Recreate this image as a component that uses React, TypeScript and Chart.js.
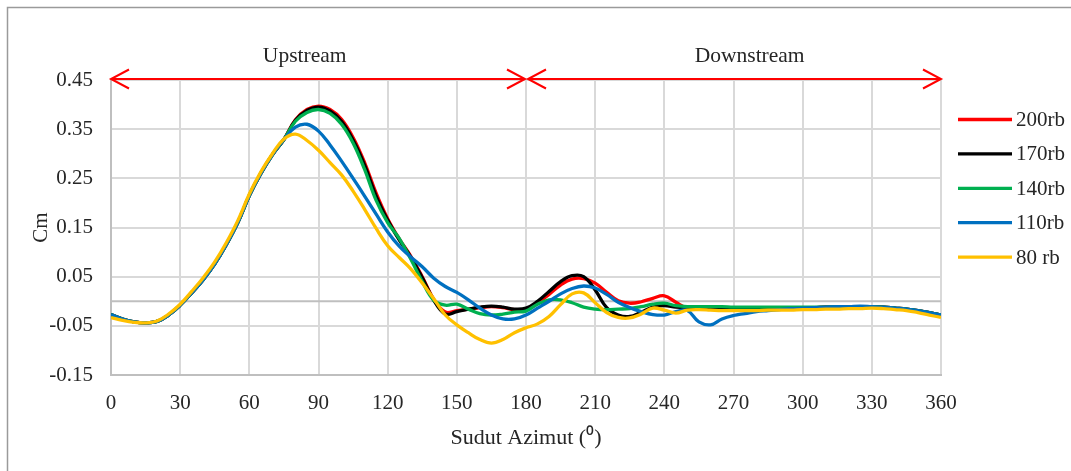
import React, { useEffect, useRef } from "react";
import { Chart, registerables } from "chart.js";

Chart.register(...registerables);

// ---------- data ----------
const ANGLES = [
  0, 5, 10, 15, 20, 25, 30, 35, 40, 45, 50, 55, 60, 65, 70, 75, 80, 85, 90, 95,
  100, 105, 110, 115, 120, 125, 130, 135, 140, 145, 150, 155, 160, 165, 170, 175,
  180, 185, 190, 195, 200, 205, 210, 215, 220, 225, 230, 235, 240, 245, 250, 255,
  260, 265, 270, 275, 280, 285, 290, 295, 300, 305, 310, 315, 320, 325, 330, 335,
  340, 345, 350, 355, 360,
];

const X_TICKS = [0, 30, 60, 90, 120, 150, 180, 210, 240, 270, 300, 330, 360];
const Y_TICKS = [-0.15, -0.05, 0.05, 0.15, 0.25, 0.35, 0.45];

const SERIES_NAMES = ["200rb", "170rb", "140rb", "110rb", "80 rb"];
const SERIES_COLORS = ["#FF0000", "#000000", "#00B050", "#0070C0", "#FFC000"];

const CM_200 = [
  -0.027, -0.036, -0.042, -0.044, -0.041, -0.028, -0.008, 0.017, 0.044, 0.076,
  0.115, 0.160, 0.215, 0.260, 0.298, 0.329, 0.369, 0.390, 0.397, 0.390,
  0.370, 0.333, 0.282, 0.220, 0.168, 0.127, 0.092, 0.050, 0.004, -0.022,
  -0.019, -0.016, -0.013, -0.011, -0.013, -0.017, -0.016, -0.004, 0.014, 0.033,
  0.045, 0.046, 0.037, 0.018, 0.001, -0.004, -0.001, 0.006, 0.011, -0.002,
  -0.014, -0.013, -0.013, -0.013, -0.013, -0.013, -0.013, -0.013, -0.013, -0.013,
  -0.013, -0.013, -0.012, -0.012, -0.011, -0.011, -0.011, -0.012, -0.014, -0.016,
  -0.019, -0.023, -0.028,
];

const CM_170 = [
  -0.027, -0.036, -0.042, -0.044, -0.041, -0.028, -0.008, 0.017, 0.044, 0.076,
  0.115, 0.160, 0.215, 0.260, 0.298, 0.329, 0.368, 0.388, 0.395, 0.387,
  0.366, 0.328, 0.277, 0.214, 0.165, 0.125, 0.090, 0.048, 0.002, -0.026,
  -0.021, -0.016, -0.012, -0.010, -0.012, -0.016, -0.014, 0.000, 0.020, 0.040,
  0.052, 0.050, 0.023, -0.013, -0.028, -0.031, -0.022, -0.012, -0.009, -0.012,
  -0.013, -0.013, -0.013, -0.013, -0.013, -0.013, -0.013, -0.013, -0.013, -0.013,
  -0.013, -0.013, -0.012, -0.012, -0.011, -0.011, -0.011, -0.012, -0.014, -0.016,
  -0.019, -0.023, -0.028,
];

const CM_140 = [
  -0.027, -0.036, -0.042, -0.044, -0.041, -0.028, -0.008, 0.017, 0.044, 0.076,
  0.115, 0.160, 0.215, 0.260, 0.298, 0.329, 0.366, 0.384, 0.390, 0.382,
  0.360, 0.322, 0.268, 0.205, 0.160, 0.128, 0.086, 0.040, 0.002, -0.008,
  -0.006, -0.016, -0.025, -0.028, -0.026, -0.022, -0.020, -0.006, 0.003, 0.003,
  -0.003, -0.012, -0.016, -0.017, -0.016, -0.015, -0.011, -0.006, -0.004, -0.009,
  -0.011, -0.011, -0.011, -0.011, -0.012, -0.012, -0.012, -0.012, -0.012, -0.012,
  -0.012, -0.012, -0.012, -0.011, -0.011, -0.011, -0.011, -0.012, -0.014, -0.016,
  -0.019, -0.023, -0.028,
];

const CM_110 = [
  -0.027, -0.036, -0.042, -0.044, -0.041, -0.028, -0.008, 0.017, 0.044, 0.076,
  0.115, 0.160, 0.215, 0.260, 0.298, 0.329, 0.354, 0.360, 0.346, 0.318,
  0.285, 0.250, 0.214, 0.177, 0.141, 0.112, 0.090, 0.070, 0.047, 0.030,
  0.018, 0.003, -0.014, -0.028, -0.036, -0.036, -0.028, -0.014, 0.000, 0.015,
  0.026, 0.031, 0.027, 0.014, -0.002, -0.013, -0.021, -0.027, -0.028, -0.021,
  -0.019, -0.042, -0.048, -0.036, -0.029, -0.025, -0.021, -0.019, -0.017, -0.015,
  -0.014, -0.013, -0.012, -0.011, -0.011, -0.010, -0.011, -0.012, -0.014, -0.016,
  -0.019, -0.023, -0.028,
];

const CM_80 = [
  -0.033, -0.039, -0.043, -0.044, -0.040, -0.026, -0.006, 0.020, 0.048, 0.080,
  0.119, 0.164, 0.218, 0.263, 0.300, 0.330, 0.340, 0.327, 0.307, 0.282,
  0.257, 0.224, 0.187, 0.148, 0.113, 0.089, 0.066, 0.037, 0.005, -0.028,
  -0.048, -0.064, -0.078, -0.085, -0.078, -0.064, -0.054, -0.046, -0.031, -0.007,
  0.015, 0.017, -0.003, -0.023, -0.033, -0.034, -0.026, -0.014, -0.018, -0.024,
  -0.018, -0.017, -0.018, -0.019, -0.019, -0.019, -0.019, -0.018, -0.018, -0.018,
  -0.017, -0.017, -0.016, -0.016, -0.015, -0.015, -0.014, -0.015, -0.017, -0.019,
  -0.023, -0.028, -0.033,
];

const SERIES_VALUES = [CM_200, CM_170, CM_140, CM_110, CM_80];

// ---------- styles ----------
const SERIF = "'Liberation Serif', 'Times New Roman', serif";
const TEXT_COLOR = "#262626";

const decorPlugin = {
  id: "decor",
  beforeDraw(chart: any) {
    const ctx = chart.ctx;
    ctx.save();
    ctx.fillStyle = "#ffffff";
    ctx.fillRect(0, 0, chart.width, chart.height);
    ctx.strokeStyle = "#9a9a9a";
    ctx.lineWidth = 1.5;
    ctx.strokeRect(7.5, 7.5, chart.width + 20, chart.height + 20);
    ctx.restore();
  },
  beforeDatasetsDraw(chart: any) {
    const { ctx, chartArea } = chart;
    const y0 = chart.scales.y.getPixelForValue(0);
    ctx.save();
    ctx.strokeStyle = "#bfbfbf";
    ctx.lineWidth = 2;
    ctx.beginPath();
    ctx.moveTo(chartArea.left, y0);
    ctx.lineTo(chartArea.right, y0);
    ctx.stroke();
    ctx.restore();
  },
  afterDraw(chart: any) {
    const { ctx } = chart;
    const xs = chart.scales.x;
    const ys = chart.scales.y;
    const ay = ys.getPixelForValue(0.45) - 1;
    const x0 = xs.getPixelForValue(0);
    const x180 = xs.getPixelForValue(180);
    const x360 = xs.getPixelForValue(360);
    ctx.save();
    ctx.strokeStyle = "#FF0000";
    ctx.lineWidth = 2;
    const arrow = (from: number, to: number) => {
      ctx.beginPath();
      ctx.moveTo(from, ay);
      ctx.lineTo(to, ay);
      ctx.stroke();
      const d = to > from ? -1 : 1;
      ctx.beginPath();
      ctx.moveTo(to + d * 18, ay - 9.5);
      ctx.lineTo(to, ay);
      ctx.lineTo(to + d * 18, ay + 9.5);
      ctx.stroke();
    };
    arrow(x180 - 100, x0);
    arrow(x0 + 100, x180 - 1);
    arrow(x360 - 100, x180 + 2);
    arrow(x180 + 100, x360);

    ctx.fillStyle = TEXT_COLOR;
    ctx.font = `21.5px ${SERIF}`;
    ctx.textAlign = "center";
    ctx.textBaseline = "middle";
    ctx.fillText("Upstream", xs.getPixelForValue(84), 56);
    ctx.fillText("Downstream", xs.getPixelForValue(277), 56);

    // legend
    const lx = 958;
    const ly0 = 119.5;
    const step = 34.4;
    ctx.textAlign = "left";
    ctx.font = `21px ${SERIF}`;
    SERIES_NAMES.forEach((name, i) => {
      const y = ly0 + i * step;
      ctx.strokeStyle = SERIES_COLORS[i];
      ctx.lineWidth = 3.3;
      ctx.beginPath();
      ctx.moveTo(lx, y);
      ctx.lineTo(lx + 54, y);
      ctx.stroke();
      ctx.fillStyle = TEXT_COLOR;
      ctx.fillText(name, lx + 58, y + 1);
    });
    ctx.restore();
  },
};

export default function App() {
  const canvasRef = useRef<HTMLCanvasElement | null>(null);

  useEffect(() => {
    const canvas = canvasRef.current;
    if (!canvas) return;
    const order = [5, 4, 3, 2, 1];
    const chart = new Chart(canvas, {
      type: "line",
      data: {
        datasets: SERIES_NAMES.map((name, i) => ({
          label: name,
          data: ANGLES.map((a, j) => ({ x: a, y: SERIES_VALUES[i][j] })),
          borderColor: SERIES_COLORS[i],
          backgroundColor: SERIES_COLORS[i],
          borderWidth: 3.3,
          pointRadius: 0,
          tension: 0.4,
          fill: false,
          order: order[i],
        })),
      },
      options: {
        animation: false,
        responsive: false,
        devicePixelRatio: 1,
        layout: { padding: { left: 0, right: 130, top: 80, bottom: 0 } },
        plugins: {
          legend: { display: false },
          tooltip: { enabled: false },
        },
        scales: {
          x: {
            type: "linear",
            min: 0,
            max: 360,
            afterBuildTicks: (s: any) => {
              s.ticks = X_TICKS.map((v) => ({ value: v }));
            },
            afterFit: (s: any) => {
              s.height = 96;
            },
            grid: { color: "#d9d9d9", lineWidth: 2, drawTicks: false },
            border: { color: "#bfbfbf", width: 2 },
            ticks: {
              padding: 16,
              color: TEXT_COLOR,
              font: { family: SERIF, size: 21 },
              maxRotation: 0,
              callback: (v: any) => String(v),
            },
            title: {
              display: true,
              text: "Sudut Azimut (⁰)",
              color: TEXT_COLOR,
              font: { family: SERIF, size: 22 },
              padding: { top: 0, bottom: 20 },
            },
          },
          y: {
            type: "linear",
            min: -0.15,
            max: 0.45,
            afterBuildTicks: (s: any) => {
              s.ticks = Y_TICKS.map((v) => ({ value: v }));
            },
            afterFit: (s: any) => {
              s.width = 111;
            },
            grid: { color: "#d9d9d9", lineWidth: 2, drawTicks: false },
            border: { color: "#bfbfbf", width: 2 },
            ticks: {
              padding: 18,
              color: TEXT_COLOR,
              font: { family: SERIF, size: 21 },
              callback: (v: any) => Number(v).toFixed(2),
            },
            title: {
              display: true,
              text: "Cm",
              color: TEXT_COLOR,
              font: { family: SERIF, size: 21 },
              padding: { top: 29, bottom: 0 },
            },
          },
        },
      },
      plugins: [decorPlugin],
    });
    return () => chart.destroy();
  }, []);

  return (
    <div style={{ position: "fixed", left: 0, top: 0, width: 1071, height: 471 }}>
      <canvas ref={canvasRef} width={1071} height={471} style={{ display: "block" }} />
    </div>
  );
}
